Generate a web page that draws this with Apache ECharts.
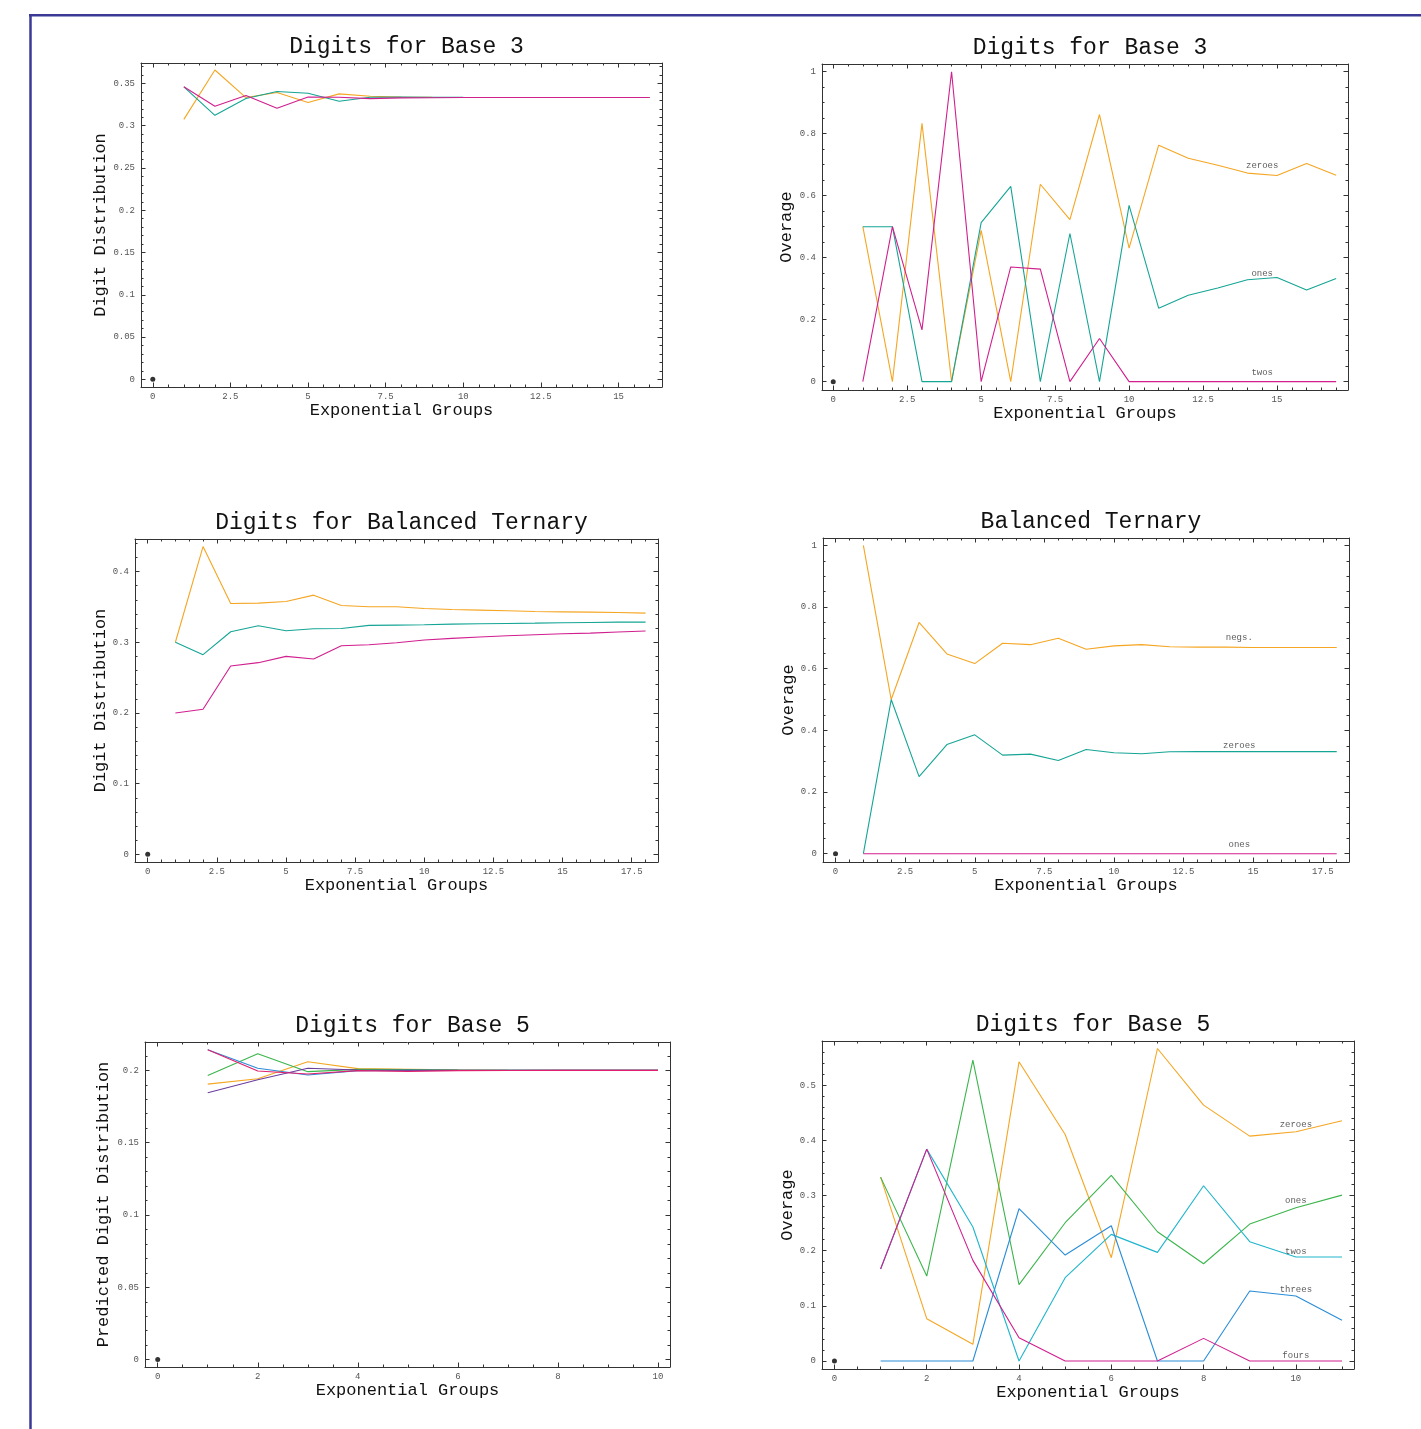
<!DOCTYPE html>
<html><head><meta charset="utf-8">
<script src="https://cdn.jsdelivr.net/npm/echarts@6/dist/echarts.min.js"></script>
<style>html,body{margin:0;padding:0;background:#fff}#c{width:1421px;height:1429px}</style>
</head><body><div id="c"></div>
<script>
// ---------------- data ----------------
const groups10 = [1,2,3,4,5,6,7,8,9,10];
const groups11 = [1,2,3,4,5,6,7,8,9,10,11];
const groups16 = [1,2,3,4,5,6,7,8,9,10,11,12,13,14,15,16];
const groups17 = [1,2,3,4,5,6,7,8,9,10,11,12,13,14,15,16,17];
const groups18 = [1,2,3,4,5,6,7,8,9,10,11,12,13,14,15,16,17,18];

// Panel 1: Digits for Base 3 (distribution)
const b3DistZeroes = [0.3075,0.3659,0.3333,0.3393,0.3274,0.3377,0.3349,0.3338,0.3335,0.3334,0.3334,0.3333,0.3333,0.3333,0.3333,0.3333];
const b3DistOnes   = [0.3460,0.3123,0.3321,0.3405,0.3385,0.3290,0.3337,0.3340,0.3337,0.3335,0.3334,0.3333,0.3333,0.3333,0.3333,0.3333];
const b3DistTwos   = [0.3460,0.3230,0.3357,0.3206,0.3340,0.3337,0.3320,0.3329,0.3331,0.3333,0.3333,0.3333,0.3333,0.3333,0.3333,0.3333];

// Panel 2: Digits for Base 3 (overage)
const b3OverZeroes = [0.5,0,0.8333,0,0.488,0,0.637,0.523,0.862,0.431,0.763,0.721,0.698,0.673,0.665,0.704,0.666];
const b3OverOnes   = [0.5,0.5,0,0,0.513,0.630,0,0.478,0,0.569,0.237,0.279,0.302,0.329,0.336,0.296,0.333];
const b3OverTwos   = [0,0.5,0.167,1,0,0.370,0.363,0,0.139,0,0,0,0,0,0,0,0];

// Panel 3: Digits for Balanced Ternary
const btDistA = [0.3,0.4353,0.3548,0.3553,0.3576,0.3666,0.3520,0.3501,0.3501,0.3478,0.3464,0.3454,0.3445,0.3435,0.3430,0.3426,0.3421,0.3412];
const btDistB = [0.3,0.2824,0.3148,0.3233,0.3162,0.3191,0.3195,0.3238,0.3242,0.3247,0.3256,0.3261,0.3266,0.3270,0.3275,0.3280,0.3285,0.3285];
const btDistC = [0.2,0.2052,0.2664,0.2711,0.2800,0.2762,0.2951,0.2965,0.2993,0.3031,0.3054,0.3073,0.3092,0.3106,0.3120,0.3129,0.3144,0.3158];

// Panel 4: Balanced Ternary (overage)
const btOverNegs   = [1,0.5,0.75,0.648,0.6166,0.6825,0.678,0.6987,0.663,0.674,0.678,0.671,0.670,0.670,0.669,0.669,0.669,0.669];
const btOverZeroes = [0,0.5,0.25,0.354,0.3855,0.3197,0.3229,0.3024,0.338,0.3272,0.324,0.3305,0.331,0.331,0.331,0.331,0.331,0.331];
const btOverOnes   = [0,0,0,0,0,0,0,0,0,0,0,0,0,0,0,0,0,0];

// Panel 5: Digits for Base 5 (predicted distribution)
const b5DistOrange = [0.1905,0.1942,0.2060,0.2012,0.2008,0.2004,0.2002,0.2001,0.2000,0.2000];
const b5DistGreen  = [0.1965,0.2115,0.1991,0.2007,0.2005,0.2002,0.2001,0.2000,0.2000,0.2000];
const b5DistBlue   = [0.2143,0.2014,0.1968,0.1998,0.2000,0.2000,0.2000,0.2000,0.2000,0.2000];
const b5DistPurple = [0.1845,0.1935,0.2014,0.2002,0.2001,0.2000,0.2000,0.2000,0.2000,0.2000];
const b5DistRed    = [0.2143,0.1995,0.1975,0.1998,0.1993,0.1998,0.1999,0.2000,0.2000,0.2000];

// Panel 6: Digits for Base 5 (overage)
const b5OverZeroes = [0.3333,0.0767,0.0302,0.5423,0.4106,0.1872,0.5664,0.4638,0.4076,0.4155,0.4354];
const b5OverOnes   = [0.3333,0.154,0.5453,0.1383,0.2506,0.3364,0.2343,0.1763,0.2482,0.2778,0.3007];
const b5OverTwos   = [0.1667,0.384,0.2428,0,0.151,0.2295,0.1969,0.3176,0.2162,0.1884,0.1884];
const b5OverThrees = [0,0,0,0.276,0.192,0.2452,0,0,0.1268,0.1178,0.0737];
const b5OverFours  = [0.1667,0.384,0.1824,0.0423,0,0,0,0.041,0,0,0];

// annotation labels (text, x, y in data units)
const b3OverNames = ['zeroes','ones','twos'];
const b3OverNameX = [14.5,14.5,14.5];
const b3OverNameY = [0.697,0.348,0.028];
const btOverNames = ['negs.','zeroes','ones'];
const btOverNameX = [14.5,14.5,14.5];
const btOverNameY = [0.700,0.350,0.029];
const b5OverNames = ['zeroes','ones','twos','threes','fours'];
const b5OverNameX = [10,10,10,10,10];
const b5OverNameY = [0.429,0.290,0.199,0.130,0.009];

// tick labels
const xTicks16 = [0,2.5,5,7.5,10,12.5,15];
const xTicks18 = [0,2.5,5,7.5,10,12.5,15,17.5];
const xTicks10 = [0,2,4,6,8,10];
const yTicksB3 = [0,0.05,0.1,0.15,0.2,0.25,0.3,0.35];
const yTicksOver = [0,0.2,0.4,0.6,0.8,1];
const yTicksBT = [0,0.1,0.2,0.3,0.4];
const yTicksB5 = [0,0.05,0.1,0.15,0.2];
const yTicksB5O = [0,0.1,0.2,0.3,0.4,0.5];

const titles = ['Digits for Base 3','Digits for Base 3','Digits for Balanced Ternary','Balanced Ternary','Digits for Base 5','Digits for Base 5'];
const xNames = ['Exponential Groups','Exponential Groups','Exponential Groups','Exponential Groups','Exponential Groups','Exponential Groups'];
const yNames = ['Digit Distribution','Overage','Digit Distribution','Overage','Predicted Digit Distribution','Overage'];

// ---------------- styles / layout ----------------
const FONT = 'Liberation Mono, Courier New, monospace';
const C_OR = '#f5a623', C_TE = '#15a595', C_MA = '#d11f8e';
const C_GR = '#3bb54c', C_BL = '#2a8dd8', C_CY = '#1fb5cc', C_RD = '#e0206e', C_PU = '#6b3d9e';

function pairs(xs, ys){ return xs.map((x,i)=>[x, ys[i]]); }
function minorVals(min, max, step){
  const out=[]; const s=Math.ceil(min/step-1e-9);
  for(let k=s; k*step<=max+1e-9; k++) out.push(+(k*step).toFixed(6));
  return out;
}

const panels = [
  {grid:{left:141,top:63,width:521,height:324}, xr:[-0.38,16.40], yr:[-0.0091,0.3742], xt:xTicks16, xm:0.5, yt:yTicksB3, ym:0.01, xGap:13, yGap:32,
   lines:[[groups16,b3DistZeroes,C_OR],[groups16,b3DistOnes,C_TE],[groups16,b3DistTwos,C_MA]]},
  {grid:{left:822,top:64,width:526,height:326}, xr:[-0.38,17.40], yr:[-0.027,1.025], xt:xTicks16, xm:0.5, yt:yTicksOver, ym:0.05, xGap:13, yGap:27,
   lines:[[groups17,b3OverZeroes,C_OR],[groups17,b3OverOnes,C_TE],[groups17,b3OverTwos,C_MA]],
   notes:[b3OverNames,b3OverNameX,b3OverNameY]},
  {grid:{left:135,top:539,width:523,height:323}, xr:[-0.46,18.45], yr:[-0.0108,0.446], xt:xTicks18, xm:0.5, yt:yTicksBT, ym:0.02, xGap:15, yGap:26,
   lines:[[groups18,btDistA,C_OR],[groups18,btDistB,C_TE],[groups18,btDistC,C_MA]]},
  {grid:{left:823,top:538,width:526,height:324}, xr:[-0.45,18.44], yr:[-0.027,1.024], xt:xTicks18, xm:0.5, yt:yTicksOver, ym:0.05, xGap:14, yGap:26,
   lines:[[groups18,btOverNegs,C_OR],[groups18,btOverZeroes,C_TE],[groups18,btOverOnes,C_MA]],
   notes:[btOverNames,btOverNameX,btOverNameY]},
  {grid:{left:145,top:1042,width:525,height:325}, xr:[-0.254,10.24], yr:[-0.0051,0.2196], xt:xTicks10, xm:0.5, yt:yTicksB5, ym:0.01, xGap:14, yGap:33,
   lines:[[groups10,b5DistOrange,C_OR],[groups10,b5DistGreen,C_GR],[groups10,b5DistBlue,C_BL],[groups10,b5DistPurple,C_PU],[groups10,b5DistRed,C_RD]]},
  {grid:{left:822,top:1041,width:532,height:328}, xr:[-0.27,11.26], yr:[-0.0145,0.58], xt:xTicks10, xm:0.5, yt:yTicksB5O, ym:0.02, xGap:14, yGap:26,
   lines:[[groups11,b5OverZeroes,C_OR],[groups11,b5OverOnes,C_GR],[groups11,b5OverTwos,C_CY],[groups11,b5OverThrees,C_BL],[groups11,b5OverFours,C_MA]],
   notes:[b5OverNames,b5OverNameX,b5OverNameY]}
];

const AXC = '#333';
const grids=[], xAxes=[], yAxes=[], series=[], titleArr=[];

function axisSet(dim, gi, range, ticks, minorStep, name, gap){
  const posA = dim==='x' ? 'bottom' : 'left';
  const posB = dim==='x' ? 'top' : 'right';
  const minor = minorVals(range[0], range[1], minorStep);
  const base = {gridIndex:gi, type:'value', min:range[0], max:range[1], splitLine:{show:false}, scale:false};
  const mk = (pos, major, withLabel) => Object.assign({}, base, {
    position: pos,
    axisLine:{show:major, onZero:false, lineStyle:{color:AXC,width:1}},
    axisTick:{show:true, inside:true, length: major?4.5:2.5, customValues: major?ticks:minor, lineStyle:{color:AXC,width:1}},
    axisLabel: withLabel ? {show:true, customValues:ticks, showMinLabel:true, showMaxLabel:true, fontSize:9, color:'#555', fontFamily:FONT, margin: dim==='x'?5:6} : {show:false},
    name: withLabel ? name : '',
    nameLocation:'middle', nameGap:gap,
    nameTextStyle:{fontSize:17, color:'#111', fontFamily:FONT}
  });
  return [mk(posA,true,true), mk(posA,false,false), mk(posB,true,false), mk(posB,false,false)];
}

panels.forEach((p,i)=>{
  grids.push(Object.assign({show:false, containLabel:false}, p.grid));
  xAxes.push(...axisSet('x', i, p.xr, p.xt, p.xm, xNames[i], p.xGap));
  yAxes.push(...axisSet('y', i, p.yr, p.yt, p.ym, yNames[i], p.yGap));
  const ax = 4*i;
  // origin point
  series.push({type:'scatter', xAxisIndex:ax, yAxisIndex:ax, data:[[0,0]], symbolSize:5, itemStyle:{color:'#000'}, silent:true, z:20});
  p.lines.forEach(([xs,ys,col],k)=>{
    series.push({type:'line', xAxisIndex:ax, yAxisIndex:ax, data:pairs(xs,ys), showSymbol:false, symbol:'none',
      lineStyle:{color:col,width:1.1}, itemStyle:{color:col}, silent:true, z:2+k});
  });
  if(p.notes){
    const [nm,nx,ny]=p.notes;
    series.push({type:'scatter', xAxisIndex:ax, yAxisIndex:ax, symbolSize:1, itemStyle:{color:'rgba(0,0,0,0)'},
      data: nm.map((t,k)=>({name:t, value:[nx[k],ny[k]]})),
      label:{show:true, position:'inside', formatter:'{b}', fontSize:9, color:'#333', fontFamily:FONT}, silent:true, z:21});
  }
  titleArr.push({text:titles[i], left:p.grid.left+p.grid.width/2, top:p.grid.top-33, textAlign:'center',
    textStyle:{fontSize:23, fontWeight:'normal', color:'#111', fontFamily:FONT}});
});

const chart = echarts.init(document.getElementById('c'), null, {renderer:'canvas'});
chart.setOption({
  animation:false,
  backgroundColor:'#fff',
  title:titleArr,
  grid:grids, xAxis:xAxes, yAxis:yAxes, series:series,
  graphic:[
    {type:'line', shape:{x1:29,y1:15.3,x2:1421,y2:15.3}, style:{stroke:'#3a3a96', lineWidth:2.5}},
    {type:'line', shape:{x1:30.5,y1:14,x2:30.5,y2:1429}, style:{stroke:'#3a3a96', lineWidth:2.5}}
  ]
});
</script></body></html>
